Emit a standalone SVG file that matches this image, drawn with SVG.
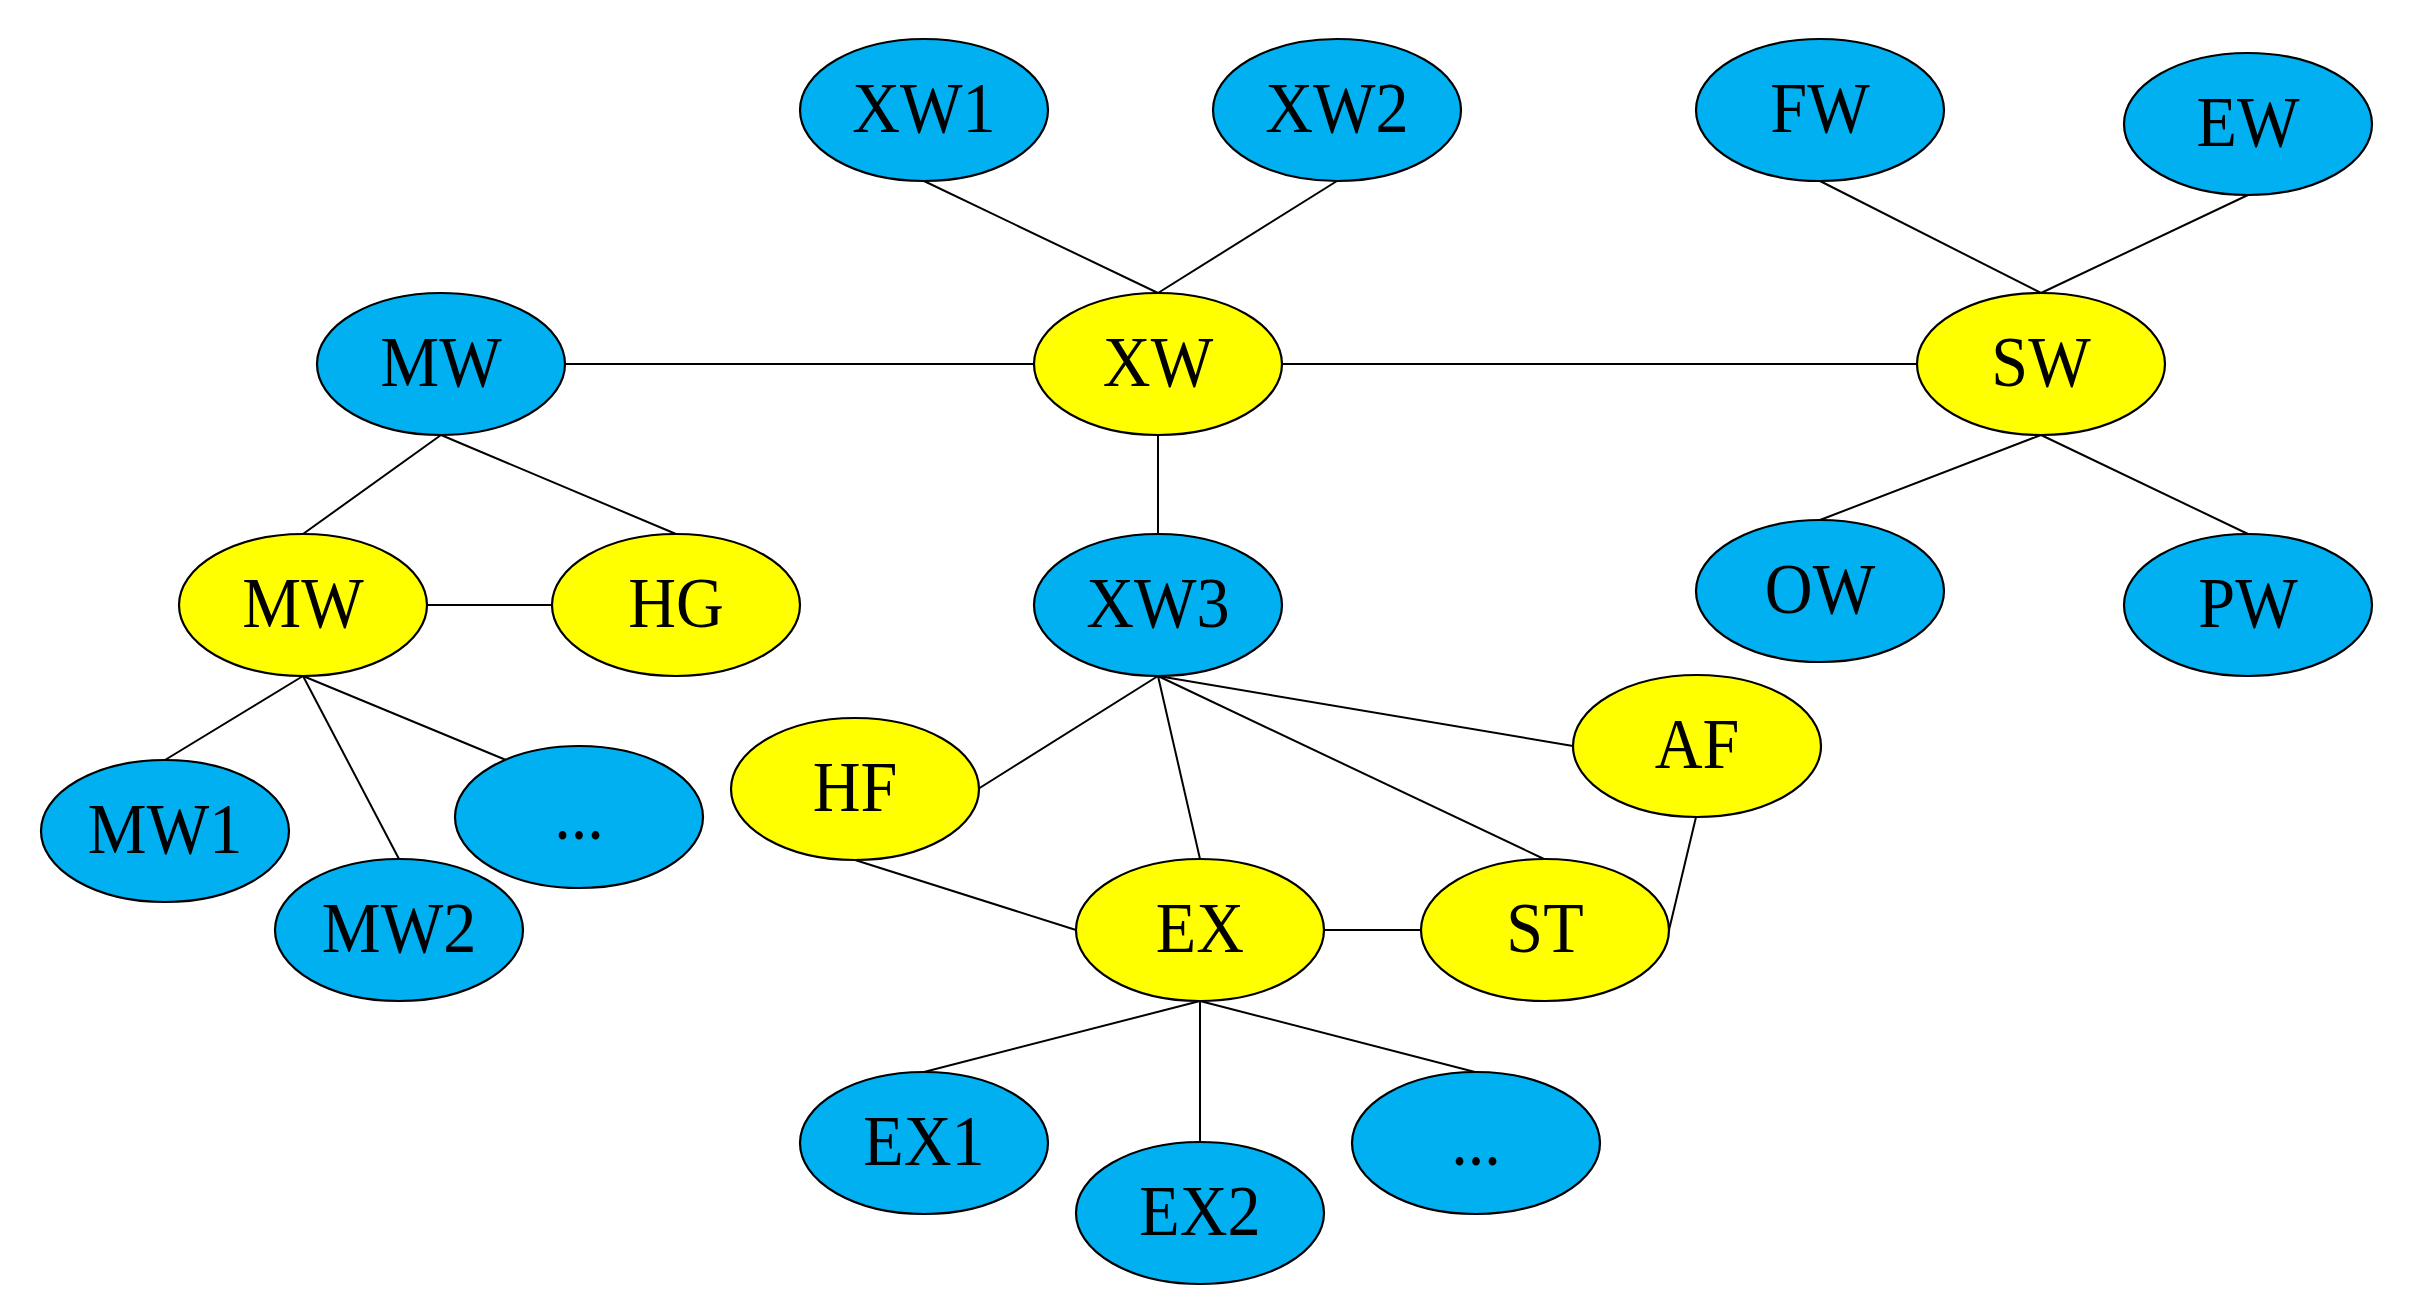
<svg xmlns="http://www.w3.org/2000/svg" width="2414" height="1314" viewBox="0 0 2414 1314">
<style>
.b{fill:#00B0F0;stroke:#000;stroke-width:2.2}
.y{fill:#FFFF00;stroke:#000;stroke-width:2.2}
.t{font-family:"Liberation Serif","Times New Roman",serif;font-size:72px;fill:#000;text-anchor:middle}
#edges line{stroke:#000;stroke-width:2}
</style>
<rect width="2414" height="1314" fill="#fff"/>
<g id="edges">
<line x1="924" y1="181" x2="1158" y2="293"/>
<line x1="1337" y1="181" x2="1158" y2="293"/>
<line x1="565" y1="364" x2="1034" y2="364"/>
<line x1="1282" y1="364" x2="1917" y2="364"/>
<line x1="1820" y1="181" x2="2041" y2="293"/>
<line x1="2248" y1="195" x2="2041" y2="293"/>
<line x1="2041" y1="435" x2="1820" y2="520"/>
<line x1="2041" y1="435" x2="2248" y2="534"/>
<line x1="1158" y1="435" x2="1158" y2="534"/>
<line x1="441" y1="435" x2="303" y2="534"/>
<line x1="441" y1="435" x2="676" y2="534"/>
<line x1="427" y1="605" x2="552" y2="605"/>
<line x1="303" y1="676" x2="165" y2="760"/>
<line x1="303" y1="676" x2="399" y2="859"/>
<line x1="303" y1="676" x2="506" y2="760"/>
<line x1="1158" y1="676" x2="978" y2="789"/>
<line x1="1158" y1="676" x2="1200" y2="859"/>
<line x1="1158" y1="676" x2="1544" y2="859"/>
<line x1="1158" y1="676" x2="1573" y2="746"/>
<line x1="855" y1="860" x2="1076" y2="930"/>
<line x1="1323" y1="930" x2="1421" y2="930"/>
<line x1="1669" y1="930" x2="1696" y2="817"/>
<line x1="1200" y1="1001" x2="924" y2="1072"/>
<line x1="1200" y1="1001" x2="1200" y2="1142"/>
<line x1="1200" y1="1001" x2="1475" y2="1072"/>
</g>
<g id="XW1"><ellipse class="b" cx="924" cy="110" rx="124" ry="71"/><text class="t" transform="translate(924,132) scale(0.92,1)">XW1</text></g>
<g id="XW2"><ellipse class="b" cx="1337" cy="110" rx="124" ry="71"/><text class="t" transform="translate(1337,132) scale(0.92,1)">XW2</text></g>
<g id="FW"><ellipse class="b" cx="1820" cy="110" rx="124" ry="71"/><text class="t" transform="translate(1820,132) scale(0.92,1)">FW</text></g>
<g id="EW"><ellipse class="b" cx="2248" cy="124" rx="124" ry="71"/><text class="t" transform="translate(2248,146) scale(0.92,1)">EW</text></g>
<g id="MW-top"><ellipse class="b" cx="441" cy="364" rx="124" ry="71"/><text class="t" transform="translate(441,386) scale(0.92,1)">MW</text></g>
<g id="XW"><ellipse class="y" cx="1158" cy="364" rx="124" ry="71"/><text class="t" transform="translate(1158,386) scale(0.92,1)">XW</text></g>
<g id="SW"><ellipse class="y" cx="2041" cy="364" rx="124" ry="71"/><text class="t" transform="translate(2041,386) scale(0.92,1)">SW</text></g>
<g id="MW-sub"><ellipse class="y" cx="303" cy="605" rx="124" ry="71"/><text class="t" transform="translate(303,627) scale(0.92,1)">MW</text></g>
<g id="HG"><ellipse class="y" cx="676" cy="605" rx="124" ry="71"/><text class="t" transform="translate(676,627) scale(0.92,1)">HG</text></g>
<g id="XW3"><ellipse class="b" cx="1158" cy="605" rx="124" ry="71"/><text class="t" transform="translate(1158,627) scale(0.92,1)">XW3</text></g>
<g id="OW"><ellipse class="b" cx="1820" cy="591" rx="124" ry="71"/><text class="t" transform="translate(1820,613) scale(0.92,1)">OW</text></g>
<g id="PW"><ellipse class="b" cx="2248" cy="605" rx="124" ry="71"/><text class="t" transform="translate(2248,627) scale(0.92,1)">PW</text></g>
<g id="HF"><ellipse class="y" cx="855" cy="789" rx="124" ry="71"/><text class="t" transform="translate(855,811) scale(0.92,1)">HF</text></g>
<g id="AF"><ellipse class="y" cx="1697" cy="746" rx="124" ry="71"/><text class="t" transform="translate(1697,768) scale(0.92,1)">AF</text></g>
<g id="MW1"><ellipse class="b" cx="165" cy="831" rx="124" ry="71"/><text class="t" transform="translate(165,853) scale(0.92,1)">MW1</text></g>
<g id="MW2"><ellipse class="b" cx="399" cy="930" rx="124" ry="71"/><text class="t" transform="translate(399,952) scale(0.92,1)">MW2</text></g>
<g id="MW-more"><ellipse class="b" cx="579" cy="817" rx="124" ry="71"/><text class="t" transform="translate(579,839) scale(0.92,1)">...</text></g>
<g id="EX"><ellipse class="y" cx="1200" cy="930" rx="124" ry="71"/><text class="t" transform="translate(1200,952) scale(0.92,1)">EX</text></g>
<g id="ST"><ellipse class="y" cx="1545" cy="930" rx="124" ry="71"/><text class="t" transform="translate(1545,952) scale(0.92,1)">ST</text></g>
<g id="EX1"><ellipse class="b" cx="924" cy="1143" rx="124" ry="71"/><text class="t" transform="translate(924,1165) scale(0.92,1)">EX1</text></g>
<g id="EX2"><ellipse class="b" cx="1200" cy="1213" rx="124" ry="71"/><text class="t" transform="translate(1200,1235) scale(0.92,1)">EX2</text></g>
<g id="EX-more"><ellipse class="b" cx="1476" cy="1143" rx="124" ry="71"/><text class="t" transform="translate(1476,1165) scale(0.92,1)">...</text></g>
</svg>
